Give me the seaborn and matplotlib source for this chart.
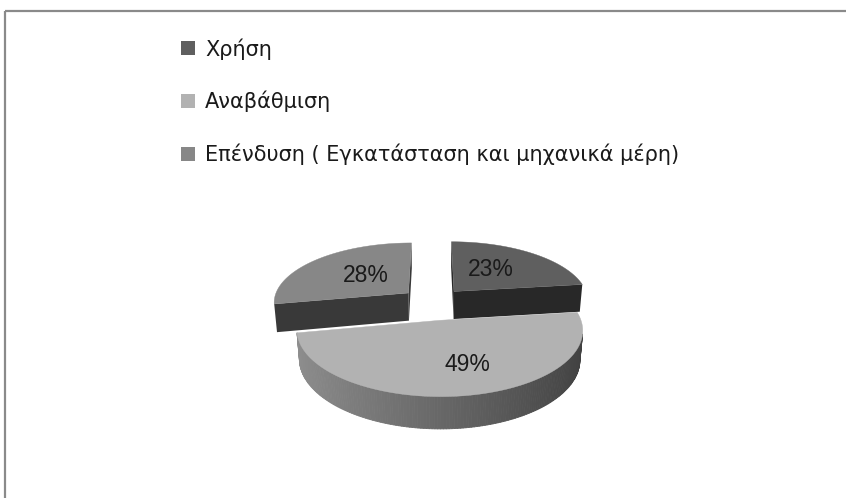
import numpy as np
import matplotlib
matplotlib.use("Agg")
import matplotlib.pyplot as plt
from matplotlib.patches import Polygon, Patch
from matplotlib.collections import PolyCollection
import seaborn as sns

# Data
categories = ["Χρήση", "Αναβάθμιση", "Επένδυση ( Εγκατάσταση και μηχανικά μέρη)"]
shares = [23, 49, 28]
explode = [0.24, 0.30, 0.24]
colors = ["#5f5f5f", "#b2b2b2", "#878787"]

sns.set_theme(style="white")
plt.rcParams["font.family"] = ["Liberation Sans", "DejaVu Sans"]

W, H = 846, 498
fig = plt.figure(figsize=(W / 100, H / 100), dpi=100)
fig.patch.set_facecolor("white")
ax = fig.add_axes([0, 0, 1, 1])
ax.set_xlim(0, W)
ax.set_ylim(H, 0)
ax.axis("off")

# chart-area frame (top and left edges)
ax.plot([5, W + 5], [11, 11], color="#8a8a8a", lw=1.6, solid_capstyle="butt")
ax.plot([5, 5], [11, H + 5], color="#8a8a8a", lw=1.6, solid_capstyle="butt")

# simple perspective camera for the 3-D pie
TILT = np.radians(28)
CAM = 6.3
THICK = 0.235
SCALE = 133
OX, OY = 433, 330
cam_pos = np.array([0.0, -CAM * np.cos(TILT), CAM * np.sin(TILT)])


def project(X, Y, Z):
    X, Y, Z = np.broadcast_arrays(np.asarray(X, float), np.asarray(Y, float), np.asarray(Z, float))
    v = Y * np.sin(TILT) + Z * np.cos(TILT)
    depth = CAM + Y * np.cos(TILT) - Z * np.sin(TILT)
    s = CAM / depth
    return np.column_stack([OX + SCALE * X * s, OY - SCALE * v * s])


def facing(point, normal):
    return np.dot(cam_pos - np.asarray(point), np.asarray(normal)) > 0


def shade(hex_color, f):
    rgb = np.array(matplotlib.colors.to_rgb(hex_color))
    return tuple(np.clip(rgb * f, 0, 1))


fracs = np.array(shares, float) / np.sum(shares)
bounds = np.concatenate([[0], np.cumsum(fracs)]) * 2 * np.pi

slices = []
for i in range(len(shares)):
    t1, t2 = bounds[i], bounds[i + 1]
    mid = 0.5 * (t1 + t2)
    dx, dy = explode[i] * np.sin(mid), explode[i] * np.cos(mid)
    slices.append((i, t1, t2, mid, dx, dy))

# paint far slices first
slices.sort(key=lambda s: -(s[5]))

# small pixel nudges for the percentage labels
label_nudge = {0: (-4, -2), 1: (15, 10), 2: (5, 0)}

label_pts = {}
for i, t1, t2, mid, dx, dy in slices:
    base = colors[i]
    th = np.linspace(t1, t2, max(int(np.degrees(t2 - t1)), 2) + 1)
    ax_x = dx + np.sin(th)
    ax_y = dy + np.cos(th)

    # outer curved wall, shaded by angle
    quads, qcols = [], []
    for k in range(len(th) - 1):
        tm = 0.5 * (th[k] + th[k + 1])
        n = (np.sin(tm), np.cos(tm), 0)
        p = (dx + np.sin(tm), dy + np.cos(tm), 0)
        if not facing(p, n):
            continue
        pts = project([ax_x[k], ax_x[k + 1], ax_x[k + 1], ax_x[k]],
                      [ax_y[k], ax_y[k + 1], ax_y[k + 1], ax_y[k]],
                      [0, 0, THICK, THICK])
        quads.append(pts)
        qcols.append(shade(base, 0.58 - 0.22 * np.sin(tm)))
    if quads:
        ax.add_collection(PolyCollection(quads, facecolors=qcols, edgecolors=qcols,
                                         linewidths=0.6, antialiased=True))

    # radial cut faces
    for t, n in ((t1, (-np.cos(t1), np.sin(t1), 0)), (t2, (np.cos(t2), -np.sin(t2), 0))):
        ex, ey = dx + np.sin(t), dy + np.cos(t)
        if facing((dx, dy, 0), n):
            pts = project([dx, ex, ex, dx], [dy, ey, ey, dy], [0, 0, THICK, THICK])
            ax.add_patch(Polygon(pts, closed=True, facecolor=shade(base, 0.42),
                                 edgecolor="none"))

    # top face
    top = project(np.concatenate([[dx], ax_x]), np.concatenate([[dy], ax_y]),
                  np.full(len(th) + 1, THICK))
    ax.add_patch(Polygon(top, closed=True, facecolor=base, edgecolor=base, lw=0.3))

    r = 0.5
    px, py = project(dx + r * np.sin(mid), dy + r * np.cos(mid), THICK)[0]
    nx, ny = label_nudge[i]
    label_pts[i] = (px + nx, py + ny)

for i, (x, y) in label_pts.items():
    ax.text(x, y, f"{shares[i]}%", ha="center", va="center", fontsize=16.5,
            color="#1a1a1a")

handles = [Patch(facecolor=c, edgecolor="none") for c in colors]
fig.legend(handles, categories, loc="upper left",
           bbox_to_anchor=(181 / W, 1 - 38 / H), frameon=False,
           prop={"family": ["DejaVu Sans"], "size": 15},
           handlelength=0.65, handleheight=0.65, handletextpad=0.5,
           labelspacing=1.5, borderpad=0, borderaxespad=0, labelcolor="#1a1a1a")

fig.savefig("out.png", dpi=100, facecolor="white")
